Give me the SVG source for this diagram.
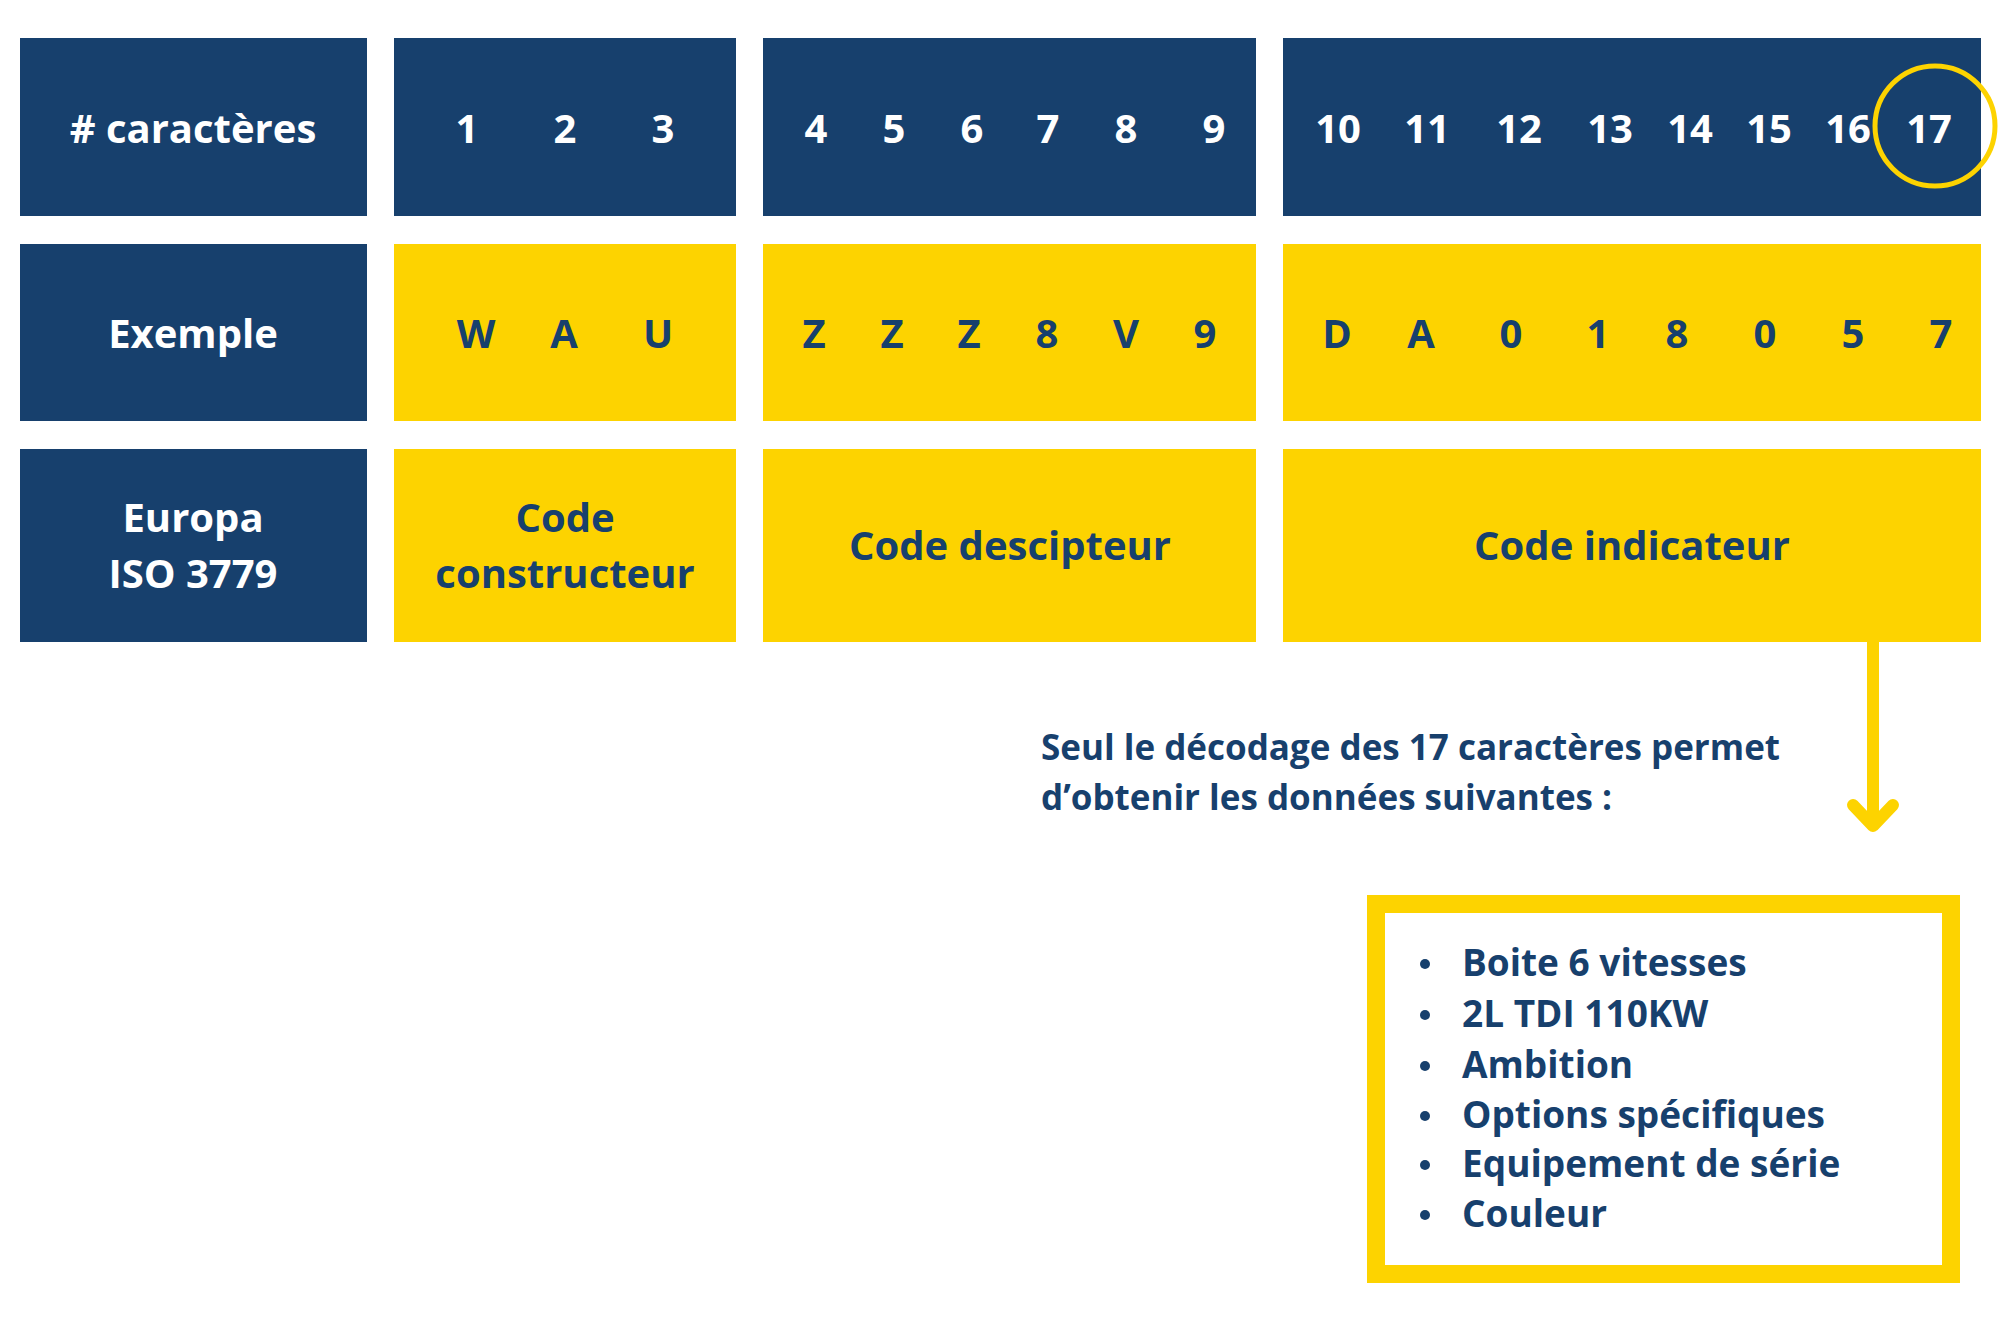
<svg xmlns="http://www.w3.org/2000/svg" width="2000" height="1333" viewBox="0 0 2000 1333">
<style>
.n{fill:#17406d}.y{fill:#fdd300}
text{font-family:"Open Sans","Noto Sans",sans-serif;font-weight:bold;text-anchor:middle}
.w{fill:#fff;font-size:40px}.d{fill:#17406d;font-size:40px}
.s{fill:#17406d;font-size:35px;text-anchor:start}
.b{fill:#17406d;font-size:37px;text-anchor:start}
</style>
<rect width="2000" height="1333" fill="#fff"/>
<g id="r1">
<rect class="n" x="20" y="38" width="347" height="178"/><text class="w" x="193" y="143"># caractères</text>
<rect class="n" x="394" y="38" width="342" height="178"/>
<text class="w" y="143"><tspan x="467">1</tspan><tspan x="565">2</tspan><tspan x="663">3</tspan></text>
<rect class="n" x="763" y="38" width="493" height="178"/>
<text class="w" y="143"><tspan x="816">4</tspan><tspan x="894">5</tspan><tspan x="972">6</tspan><tspan x="1048">7</tspan><tspan x="1126">8</tspan><tspan x="1214">9</tspan></text>
<rect class="n" x="1283" y="38" width="698" height="178"/>
<text class="w" y="143"><tspan x="1338">10</tspan><tspan x="1427">11</tspan><tspan x="1519">12</tspan><tspan x="1610">13</tspan><tspan x="1690">14</tspan><tspan x="1769">15</tspan><tspan x="1848">16</tspan><tspan x="1929">17</tspan></text>
<circle cx="1935" cy="126" r="60" fill="none" stroke="#fdd300" stroke-width="5"/>
</g>
<g id="r2">
<rect class="n" x="20" y="244" width="347" height="177"/><text class="w" x="193" y="348">Exemple</text>
<rect class="y" x="394" y="244" width="342" height="177"/>
<text class="d" y="348"><tspan x="476">W</tspan><tspan x="564">A</tspan><tspan x="658">U</tspan></text>
<rect class="y" x="763" y="244" width="493" height="177"/>
<text class="d" y="348"><tspan x="814">Z</tspan><tspan x="892">Z</tspan><tspan x="969">Z</tspan><tspan x="1047">8</tspan><tspan x="1126">V</tspan><tspan x="1205">9</tspan></text>
<rect class="y" x="1283" y="244" width="698" height="177"/>
<text class="d" y="348"><tspan x="1337">D</tspan><tspan x="1421">A</tspan><tspan x="1511">0</tspan><tspan x="1598">1</tspan><tspan x="1677">8</tspan><tspan x="1765">0</tspan><tspan x="1853">5</tspan><tspan x="1941">7</tspan></text>
</g>
<g id="r3">
<rect class="n" x="20" y="449" width="347" height="193"/>
<text class="w"><tspan x="193" y="532">Europa</tspan><tspan x="193" y="588">ISO 3779</tspan></text>
<rect class="y" x="394" y="449" width="342" height="193"/>
<text class="d"><tspan x="565" y="532">Code</tspan><tspan x="565" y="588">constructeur</tspan></text>
<rect class="y" x="763" y="449" width="493" height="193"/><text class="d" x="1010" y="560">Code descipteur</text>
<rect class="y" x="1283" y="449" width="698" height="193"/><text class="d" x="1632" y="560">Code indicateur</text>
</g>
<g id="connectors" stroke="#fdd300" stroke-width="12" fill="none" stroke-linecap="round" stroke-linejoin="round">
<line x1="1873" y1="642" x2="1873" y2="822"/>
<polyline points="1853,805 1873,826 1893,805"/>
</g>
<g id="note"><text class="s"><tspan x="1041" y="760">Seul le décodage des 17 caractères permet</tspan><tspan x="1041" y="810">d’obtenir les données suivantes :</tspan></text></g>
<g id="list">
<rect x="1376" y="904" width="575" height="370" fill="none" stroke="#fdd300" stroke-width="18"/>
<g fill="#17406d"><circle cx="1425" cy="964" r="5"/><circle cx="1425" cy="1015" r="5"/><circle cx="1425" cy="1066" r="5"/><circle cx="1425" cy="1116" r="5"/><circle cx="1425" cy="1165" r="5"/><circle cx="1425" cy="1215" r="5"/></g>
<text class="b"><tspan x="1462" y="976">Boite 6 vitesses</tspan><tspan x="1462" y="1027">2L TDI 110KW</tspan><tspan x="1462" y="1078">Ambition</tspan><tspan x="1462" y="1128">Options spécifiques</tspan><tspan x="1462" y="1177">Equipement de série</tspan><tspan x="1462" y="1227">Couleur</tspan></text>
</g>
</svg>
